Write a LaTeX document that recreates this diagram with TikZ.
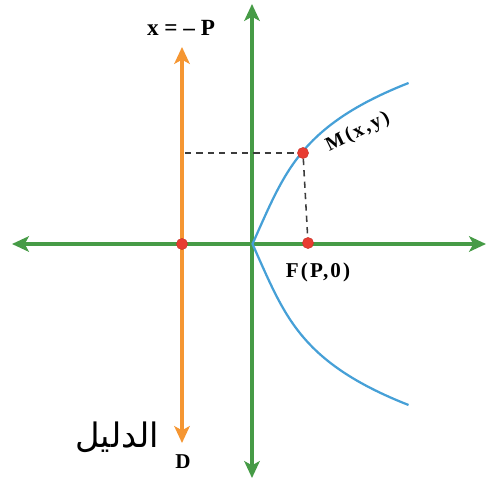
\documentclass[tikz,border=0pt]{standalone}
\usepackage{fontspec}
\setmainfont{Liberation Serif}
\newfontfamily\arabicfont[Script=Arabic]{DejaVu Sans}
\TeXXeTstate=1
\usetikzlibrary{arrows.meta}
\definecolor{axgreen}{RGB}{70,155,70}
\definecolor{dirorange}{RGB}{245,150,50}
\definecolor{parblue}{RGB}{70,160,215}
\definecolor{dotred}{RGB}{232,60,50}
\definecolor{dashgray}{RGB}{60,60,60}
\begin{document}
\begin{tikzpicture}[x=0.25cm,y=-0.25cm,
  bothtips/.style={{Stealth[length=12pt,width=11pt,inset=3pt]}-{Stealth[length=12pt,width=11pt,inset=3pt]}},
  axis/.style={bothtips,draw=axgreen,fill=axgreen,line width=2.7pt},
  directrix/.style={bothtips,draw=dirorange,fill=dirorange,line width=2.7pt},
  curve/.style={draw=parblue,line width=1.6pt,line join=round},
  guide/.style={draw=dashgray,line width=1.1pt,dash pattern=on 4.5pt off 3.6pt},
  dot/.style={circle,fill=dotred,draw=dotred!85!black,line width=0.3pt,inner sep=0pt,minimum size=0.28cm},
  lbl/.style={inner sep=0pt}]
\useasboundingbox (0,0) rectangle (48.9,49);
% axes end points
\coordinate (xl) at (1.2,24.4);
\coordinate (xr) at (48.6,24.4);
\coordinate (yt) at (25.2,0.4);
\coordinate (yb) at (25.2,47.8);
\coordinate (dt) at (18.2,4.7);
\coordinate (db) at (18.2,44.3);
\draw[axis] (xl) -- (xr);
\draw[axis] (yb) -- (yt);
\draw[directrix] (db) -- (dt);
% parabola
\draw[curve] plot[domain=-16.1:16.1,samples=131] ({25.25+0.443*abs(\x)+(0.011225*\x*\x)*(0.011225*\x*\x)},{24.4+\x});
% points
\node[dot] (K) at (18.2,24.4) {};
\node[dot] (F) at (30.8,24.3) {};
\node[dot] (M) at (30.3,15.3) {};
\coordinate (H) at (18.5,15.3);
\draw[guide] (H) -- (M);
\draw[guide] (M) -- (F);
% labels
\node[lbl,font=\bfseries\fontsize{16.5}{19}\selectfont] (lx) at (18.1,2.8) {x = – P};
\node[lbl,font=\bfseries\fontsize{14}{16}\selectfont\addfontfeature{LetterSpace=12},rotate=26] (lm) at (35.8,13.2) {M(x,y)};
\node[lbl,font=\bfseries\fontsize{15}{17}\selectfont\addfontfeature{LetterSpace=10}] (lf) at (31.8,27.2) {F(P,0)};
\node[lbl,font=\bfseries\fontsize{15}{17}\selectfont] (ld) at (18.3,46.2) {D};
\node[lbl,font=\arabicfont\fontsize{24}{28}\selectfont] (la) at (11.7,43.7) {\beginR الدليل\endR};
\end{tikzpicture}
\end{document}
